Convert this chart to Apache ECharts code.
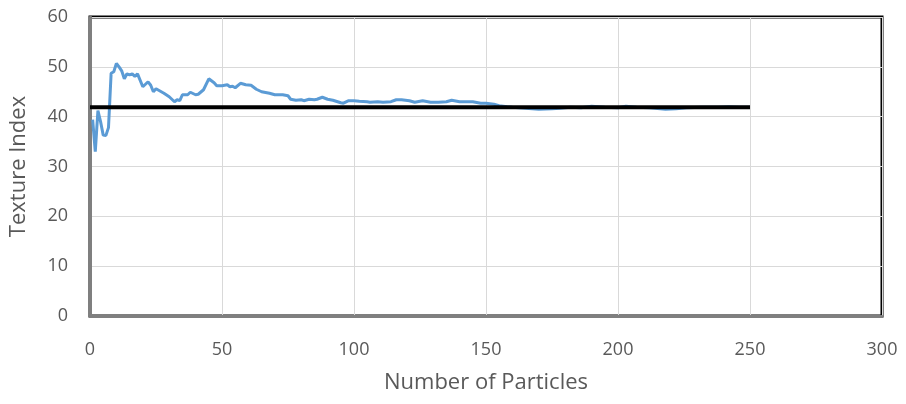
<!DOCTYPE html>
<html>
<head>
<meta charset="utf-8">
<script src="https://cdn.jsdelivr.net/npm/echarts@6/dist/echarts.min.js"></script>
<style>
  html, body { margin: 0; padding: 0; background: #fff; }
  #chart { width: 906px; height: 404px; }
</style>
</head>
<body>
<div id="chart"></div>
<script>
// number of particles sampled
var particles = [1,2,3,4,5,6,7,8,9,10,11,12,13,14,15,16,17,18,20,22,23,24,25,28,30,32,33,34,35,37,38,40,41,43,45,47,48,50,52,53,54,55,57,59,61,63,65,68,70,73,75,76,78,80,81,83,85,86,88,90,92,95,96,98,100,102,105,106,109,111,114,116,118,121,123,126,129,132,135,137,140,142,145,148,150,153,155,158,160,165,170,175,178,182,186,190,195,200,203,207,212,218,222,226,232,238,242,246,250];
// running texture index
var textureIndex = [39.4,33.0,41.2,39.0,36.3,36.2,37.8,48.7,49.0,50.7,50.0,49.2,47.6,48.6,48.4,48.6,48.1,48.6,46.0,47.0,46.3,45.0,45.6,44.7,44.0,43.0,43.4,43.2,44.4,44.4,44.9,44.4,44.5,45.4,47.6,46.8,46.2,46.2,46.4,46.0,46.1,45.8,46.7,46.4,46.3,45.5,45.0,44.7,44.4,44.4,44.2,43.5,43.3,43.4,43.2,43.5,43.4,43.5,43.9,43.5,43.3,42.8,42.7,43.2,43.2,43.1,43.0,42.9,43.0,42.9,43.0,43.4,43.4,43.2,42.9,43.2,42.9,42.9,43.0,43.3,43.0,43.0,43.0,42.7,42.7,42.5,42.2,42.0,41.9,41.7,41.5,41.6,41.7,41.9,41.8,42.1,41.9,41.8,42.1,41.9,41.8,41.5,41.6,41.8,41.9,41.9,42.0,41.9,41.9];
// reference level
var refX = [0, 250];
var refY = [41.9, 41.9];

var xTicks = [0, 300, 50];
var yTicks = [0, 60, 10];

function pairs(xs, ys) {
    var out = [];
    for (var i = 0; i < xs.length; i++) out.push([xs[i], ys[i]]);
    return out;
}

var font = '"Open Sans", "Noto Sans", sans-serif';
var myChart = echarts.init(document.getElementById('chart'));
var option = {
    backgroundColor: '#fff',
    animation: false,
    grid: {
        left: 90, right: 24, top: 17, bottom: 88,
        show: true,
        borderColor: '#000',
        borderWidth: 3
    },
    xAxis: {
        type: 'value',
        min: xTicks[0], max: xTicks[1], interval: xTicks[2],
        name: 'Number of Particles',
        nameLocation: 'middle',
        nameGap: 56,
        nameTextStyle: { fontFamily: font, fontSize: 22, color: '#595959' },
        axisLine: { show: true, lineStyle: { color: '#7f7f7f', width: 3 } },
        axisTick: { show: false },
        axisLabel: { fontFamily: font, fontSize: 18, color: '#595959', margin: 25 },
        splitLine: { show: true, lineStyle: { color: '#d9d9d9', width: 1 } }
    },
    yAxis: {
        type: 'value',
        min: yTicks[0], max: yTicks[1], interval: yTicks[2],
        name: 'Texture Index',
        nameLocation: 'middle',
        nameGap: 60,
        nameTextStyle: { fontFamily: font, fontSize: 22, color: '#595959' },
        axisLine: { show: true, lineStyle: { color: '#7f7f7f', width: 3 } },
        axisTick: { show: false },
        axisLabel: { fontFamily: font, fontSize: 18, color: '#595959', margin: 22 },
        splitLine: { show: true, lineStyle: { color: '#d9d9d9', width: 1 } }
    },
    series: [
        {
            name: 'Texture Index',
            type: 'line',
            data: pairs(particles, textureIndex),
            symbol: 'none',
            lineStyle: { color: '#5b9bd5', width: 3 },
            z: 2
        },
        {
            name: 'Reference',
            type: 'line',
            data: pairs(refX, refY),
            symbol: 'none',
            lineStyle: { color: '#000', width: 4 },
            z: 3
        }
    ]
};
myChart.setOption(option);
</script>
</body>
</html>
